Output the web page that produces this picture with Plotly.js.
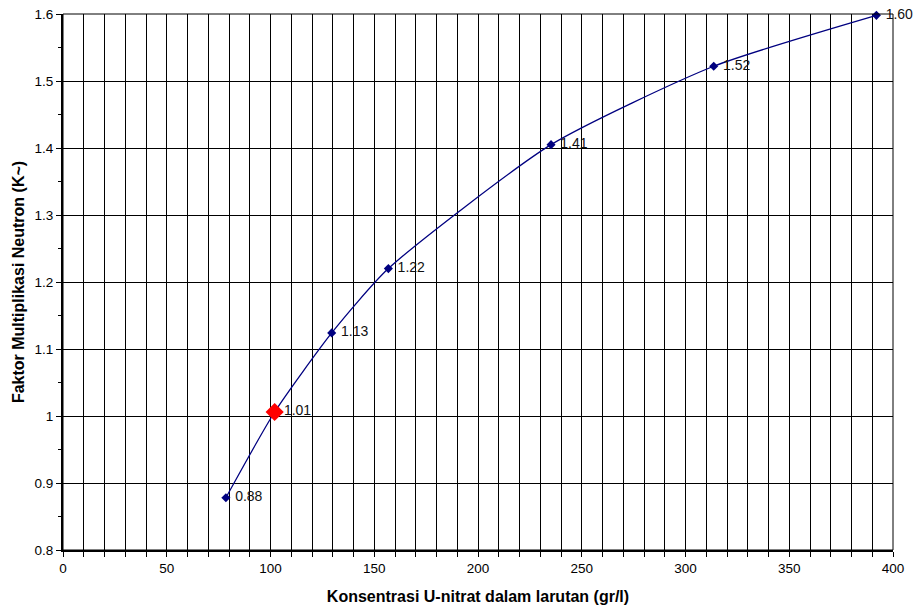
<!DOCTYPE html>
<html>
<head>
<meta charset="utf-8">
<script src="https://cdn.plot.ly/plotly-3.0.1.min.js"></script>
<style>html,body{margin:0;padding:0;background:#fff;}#chart{width:922px;height:611px;}</style>
</head>
<body>
<div id="chart"></div>
<script>
// Data
const konsentrasi = [78.5, 102, 129.5, 156.8, 235.2, 313.6, 392];
const faktorK = [0.878, 1.006, 1.124, 1.22, 1.405, 1.522, 1.598];
const labelK = ["0.88", "1.01", "1.13", "1.22", "1.41", "1.52", "1.60"];
const kritisX = [102];
const kritisY = [1.006];

const font = "Arial";

const traces = [
  {
    x: konsentrasi, y: faktorK, type: 'scatter', mode: 'lines+markers+text',
    line: {color: '#000080', width: 1.3, shape: 'spline', smoothing: 0.6},
    marker: {symbol: 'diamond', size: 7, color: '#000080'},
    text: labelK, texttemplate: '\u00a0%{text}', textposition: 'middle right',
    textfont: {family: font, size: 14, color: '#111'},
    cliponaxis: false, hoverinfo: 'x+y'
  },
  {
    x: kritisX, y: kritisY, type: 'scatter', mode: 'markers',
    marker: {symbol: 'diamond', size: 14, color: '#ff0000'},
    cliponaxis: false, hoverinfo: 'x+y'
  }
];

const layout = {
  width: 922, height: 611,
  margin: {l: 63, r: 29, t: 14, b: 61},
  paper_bgcolor: '#fff', plot_bgcolor: '#fff',
  showlegend: false,
  font: {family: font, size: 13, color: '#000'},
  xaxis: {
    range: [0, 400], tickmode: 'linear', tick0: 0, dtick: 50,
    showgrid: true, gridcolor: '#000', gridwidth: 1, zeroline: false,
    showline: true, linecolor: '#000', linewidth: 2,
    ticks: 'outside', ticklen: 5, tickcolor: '#000', tickwidth: 1,
    minor: {tickmode: 'linear', tick0: 0, dtick: 10, showgrid: true, gridcolor: '#000', gridwidth: 1, ticks: 'outside', ticklen: 5, tickcolor: '#000'},
    tickfont: {family: font, size: 13.5, color: '#000'},
    title: {text: '<b>Konsentrasi U-nitrat dalam larutan (gr/l)</b>', font: {family: font, size: 16, color: '#000'}, standoff: 16}
  },
  yaxis: {
    range: [0.8, 1.6], tickmode: 'array',
    tickvals: [0.8,0.9,1.0,1.1,1.2,1.3,1.4,1.5,1.6],
    ticktext: ['0.8','0.9','1','1.1','1.2','1.3','1.4','1.5','1.6'],
    showgrid: true, gridcolor: '#000', gridwidth: 1, zeroline: false,
    showline: true, linecolor: '#000', linewidth: 2,
    ticks: 'outside', ticklen: 5, tickcolor: '#000', tickwidth: 1,
    minor: {tickmode: 'linear', tick0: 0.8, dtick: 0.05, showgrid: false, ticks: 'outside', ticklen: 3, tickcolor: '#000'},
    tickfont: {family: font, size: 13.5, color: '#000'},
    title: {text: '<b>Faktor Multiplikasi Neutron (K~)</b>', font: {family: font, size: 16, color: '#000'}, standoff: 6}
  },
  shapes: [
    {type: 'rect', xref: 'paper', yref: 'paper', x0: 0, x1: 1, y0: 0, y1: 1, line: {color: '#000', width: 1}, fillcolor: 'rgba(0,0,0,0)', layer: 'above'}
  ]
};

Plotly.newPlot('chart', traces, layout, {displayModeBar: false, staticPlot: true});
</script>
</body>
</html>
